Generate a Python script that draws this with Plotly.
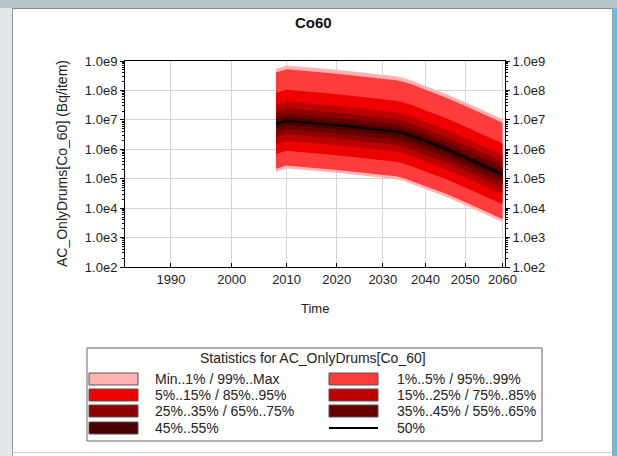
import plotly.graph_objects as go
import math

# ---------------- data (log10 of Bq/item) ----------------
years = [2008, 2010, 2020, 2030, 2033, 2035, 2037, 2040, 2045, 2050, 2055, 2060]
p_min = [5.24, 5.35, 5.20, 5.03, 4.98, 4.91, 4.82, 4.65, 4.39, 4.10, 3.82, 3.53]
p01 = [5.34, 5.45, 5.30, 5.13, 5.08, 5.01, 4.92, 4.75, 4.49, 4.20, 3.92, 3.63]
p05 = [5.84, 5.95, 5.80, 5.63, 5.58, 5.51, 5.42, 5.25, 4.99, 4.70, 4.42, 4.13]
p15 = [6.18, 6.29, 6.14, 5.97, 5.92, 5.85, 5.76, 5.59, 5.33, 5.04, 4.76, 4.47]
p25 = [6.41, 6.52, 6.37, 6.20, 6.15, 6.08, 5.99, 5.82, 5.56, 5.27, 4.99, 4.70]
p35 = [6.58, 6.69, 6.54, 6.37, 6.32, 6.25, 6.16, 5.99, 5.73, 5.44, 5.16, 4.87]
p45 = [6.72, 6.83, 6.68, 6.51, 6.46, 6.39, 6.30, 6.13, 5.87, 5.58, 5.30, 5.01]
p50 = [6.86, 6.97, 6.82, 6.65, 6.60, 6.53, 6.44, 6.27, 6.01, 5.72, 5.44, 5.15]
p55 = [6.98, 7.09, 6.94, 6.77, 6.72, 6.65, 6.56, 6.39, 6.13, 5.84, 5.56, 5.27]
p65 = [7.11, 7.22, 7.07, 6.90, 6.85, 6.78, 6.69, 6.52, 6.26, 5.97, 5.69, 5.40]
p75 = [7.28, 7.39, 7.24, 7.07, 7.02, 6.95, 6.86, 6.69, 6.43, 6.14, 5.86, 5.57]
p85 = [7.51, 7.62, 7.47, 7.30, 7.25, 7.18, 7.09, 6.92, 6.66, 6.37, 6.09, 5.80]
p95 = [7.91, 8.02, 7.87, 7.70, 7.65, 7.58, 7.49, 7.32, 7.06, 6.77, 6.49, 6.20]
p99 = [8.61, 8.72, 8.57, 8.40, 8.35, 8.28, 8.19, 8.02, 7.76, 7.47, 7.19, 6.90]
p_max = [8.74, 8.85, 8.70, 8.53, 8.48, 8.41, 8.32, 8.15, 7.89, 7.60, 7.32, 7.03]

x_ticks = [1990, 2000, 2010, 2020, 2030, 2040, 2050, 2060]
y_ticks = [2, 3, 4, 5, 6, 7, 8, 9]
y_ticktext = ["1.0e%d" % k for k in y_ticks]

band_labels = ["Min..1% / 99%..Max", "1%..5% / 95%..99%", "5%..15% / 85%..95%",
               "15%..25% / 75%..85%", "25%..35% / 65%..75%", "35%..45% / 55%..65%",
               "45%..55%"]
band_colors = ["#ffb4b4", "#ff3c3c", "#ee0000", "#bb0000", "#8c0000", "#690000", "#480000"]

# time axis origin (axis is logarithmic in time since this year)
T0 = 1900
xs = [y - T0 for y in years]

# ---------------- figure ----------------
fig = go.Figure()
bands = [(p_min, p_max), (p01, p99), (p05, p95), (p15, p85), (p25, p75), (p35, p65), (p45, p55)]
for (lo, hi), col, lab in zip(bands, band_colors, band_labels):
    fig.add_trace(go.Scatter(
        x=xs + xs[::-1],
        y=[10 ** v for v in hi] + [10 ** v for v in lo[::-1]],
        fill="toself", fillcolor=col, mode="lines", line=dict(width=0, color=col),
        name=lab, showlegend=False, hoverinfo="skip"))
fig.add_trace(go.Scatter(x=xs, y=[10 ** v for v in p50], mode="lines",
                         line=dict(color="black", width=2), name="50%", showlegend=False))
# invisible trace to carry right-hand axis
fig.add_trace(go.Scatter(x=[xs[0]], y=[10 ** p50[0]], yaxis="y2", mode="markers",
                         marker=dict(opacity=0), showlegend=False, hoverinfo="skip"))

L, R, T, B = 125, 505, 61, 267
W, H = 617, 456
def PX(px):
    return (px - L) / (R - L)
def PY(py):
    return (B - py) / (B - T)

font_family = "Liberation Sans, Arial, sans-serif"
minor_y = dict(ticks="outside", ticklen=2, tickcolor="black", showgrid=False, dtick="D1")
fig.update_layout(
    width=W, height=H,
    margin=dict(l=L, r=W - R, t=T, b=H - B),
    paper_bgcolor="white", plot_bgcolor="white",
    font=dict(family=font_family, size=13, color="#222"),
    showlegend=False,
    xaxis=dict(type="log", range=[math.log10(83.1), math.log10(160.7)],
               tickvals=[t - T0 for t in x_ticks], ticktext=[str(t) for t in x_ticks],
               showgrid=True, gridcolor="#d4d4d4", gridwidth=1,
               showline=True, linecolor="black", linewidth=1, mirror=True,
               ticks="inside", ticklen=4, tickcolor="black", zeroline=False,
               tickfont=dict(size=13, color="#222")),
    yaxis=dict(type="log", range=[2, 9],
               tickvals=[10 ** k for k in y_ticks], ticktext=y_ticktext,
               showgrid=True, gridcolor="#d4d4d4", gridwidth=1,
               showline=True, linecolor="black", linewidth=1, mirror=True,
               ticks="outside", ticklen=4, tickcolor="black", zeroline=False,
               minor=minor_y,
               tickfont=dict(size=13, color="#222")),
    yaxis2=dict(type="log", range=[2, 9], overlaying="y", side="right",
                tickvals=[10 ** k for k in y_ticks], ticktext=y_ticktext,
                showgrid=False, showline=True, linecolor="black", linewidth=1,
                ticks="outside", ticklen=4, tickcolor="black", zeroline=False,
                minor=minor_y,
                tickfont=dict(size=13, color="#222")),
)

shapes = []
annots = []
# window frame decoration
shapes.append(dict(type="rect", xref="paper", yref="paper", x0=PX(0), x1=PX(12), y0=PY(456), y1=PY(0),
                   fillcolor="#e3e7ea", line=dict(width=0), layer="below"))
shapes.append(dict(type="rect", xref="paper", yref="paper", x0=PX(0), x1=PX(617), y0=PY(8), y1=PY(0),
                   fillcolor="#b8c4c8", line=dict(width=0), layer="below"))
shapes.append(dict(type="line", xref="paper", yref="paper", x0=PX(12.5), x1=PX(12.5), y0=PY(456), y1=PY(8),
                   line=dict(color="#8a9aa0", width=1)))
shapes.append(dict(type="line", xref="paper", yref="paper", x0=PX(12), x1=PX(612), y0=PY(8.5), y1=PY(8.5),
                   line=dict(color="#7d8a8f", width=1)))
shapes.append(dict(type="rect", xref="paper", yref="paper", x0=PX(613), x1=PX(617), y0=PY(456), y1=PY(8),
                   fillcolor="#55c3ea", line=dict(width=0), layer="below"))
shapes.append(dict(type="line", xref="paper", yref="paper", x0=PX(612.5), x1=PX(612.5), y0=PY(456), y1=PY(8),
                   line=dict(color="#9aa4a8", width=1)))
shapes.append(dict(type="line", xref="paper", yref="paper", x0=PX(12), x1=PX(612), y0=PY(452.5), y1=PY(452.5),
                   line=dict(color="#c8cdd0", width=1)))

# title and axis titles
annots.append(dict(text="<b>Co60</b>", x=PX(313), y=PY(22), xref="paper", yref="paper",
                   showarrow=False, font=dict(size=15, color="#111"), xanchor="center", yanchor="middle"))
annots.append(dict(text="Time", x=PX(315), y=PY(308), xref="paper", yref="paper",
                   showarrow=False, font=dict(size=13, color="#222"), xanchor="center", yanchor="middle"))
annots.append(dict(text="AC_OnlyDrums[Co_60] (Bq/item)", x=PX(62), y=PY(164), xref="paper", yref="paper",
                   showarrow=False, textangle=-90, font=dict(size=14, color="#222"),
                   xanchor="center", yanchor="middle"))

# custom legend
shapes.append(dict(type="rect", xref="paper", yref="paper", x0=PX(87), x1=PX(542), y0=PY(441), y1=PY(348),
                   line=dict(color="#666", width=1), fillcolor="white"))
annots.append(dict(text="Statistics for AC_OnlyDrums[Co_60]", x=PX(313), y=PY(358), xref="paper", yref="paper",
                   showarrow=False, font=dict(size=14, color="#222"), xanchor="center", yanchor="middle"))
row_y = [379, 395, 411, 428]
entries = [(band_labels[0], band_colors[0]), (band_labels[1], band_colors[1]),
           (band_labels[2], band_colors[2]), (band_labels[3], band_colors[3]),
           (band_labels[4], band_colors[4]), (band_labels[5], band_colors[5]),
           (band_labels[6], band_colors[6]), ("50%", None)]
for i, (lab, col) in enumerate(entries):
    r, c = divmod(i, 2)
    cy = row_y[r]
    sx0, sx1, tx = (89, 138, 153) if c == 0 else (329, 378, 395)
    if col is not None:
        shapes.append(dict(type="rect", xref="paper", yref="paper", x0=PX(sx0), x1=PX(sx1),
                           y0=PY(cy + 6), y1=PY(cy - 6), fillcolor=col, line=dict(color="#555", width=1)))
    else:
        shapes.append(dict(type="line", xref="paper", yref="paper", x0=PX(sx0), x1=PX(sx1),
                           y0=PY(cy), y1=PY(cy), line=dict(color="black", width=2)))
    annots.append(dict(text=lab, x=PX(tx), y=PY(cy), xref="paper", yref="paper", showarrow=False,
                       font=dict(size=14, color="#222"), xanchor="left", yanchor="middle"))

fig.update_layout(shapes=shapes, annotations=annots)
fig.write_html("out.html", config={"displayModeBar": False},
               post_script="document.body.style.margin='0';")
